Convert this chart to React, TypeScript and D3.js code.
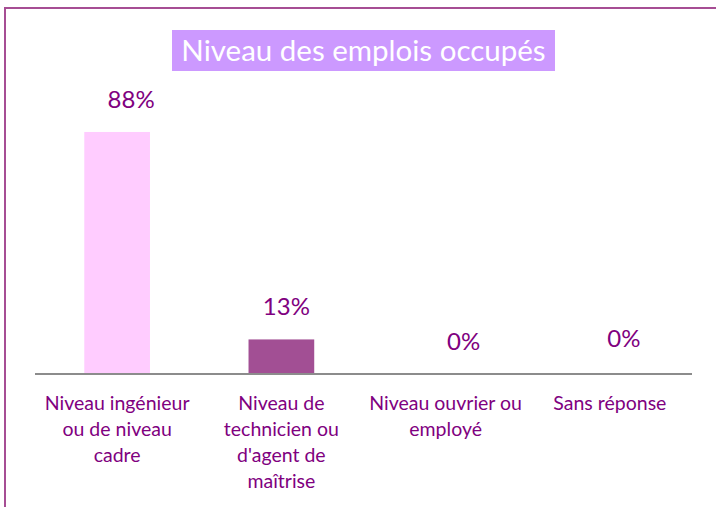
import React from "react";
import * as d3 from "d3";

const categories: string[][] = [
  ["Niveau ingénieur", "ou de niveau", "cadre"],
  ["Niveau de", "technicien ou", "d'agent de", "maîtrise"],
  ["Niveau ouvrier ou", "employé"],
  ["Sans réponse"],
];
const values: number[] = [87.5, 12.5, 0, 0];
const valueLabels: string[] = ["88%", "13%", "0%", "0%"];
const labelOffsetX: number[] = [14, 5, 18, 14];
const labelOffsetY: number[] = [0, 0, 0, -3];
const barColors: string[] = ["#FFCCFF", "#A24F94", "#A24F94", "#A24F94"];

const W = 716;
const H = 507;
const FONT = "Lato, 'Open Sans', sans-serif";
const TEXT = "#800080";

export default function App() {
  const x = d3
    .scaleBand<number>()
    .domain(d3.range(categories.length))
    .range([35, 692])
    .paddingInner(0.6)
    .paddingOuter(0.3);
  const y = d3.scaleLinear().domain([0, 100]).range([374, 97.4]);

  return (
    <svg
      width={W}
      height={H}
      style={{ position: "absolute", left: 0, top: 0, fontFamily: FONT }}
    >
      <rect x={0} y={0} width={W} height={H} fill="#fff" />
      <path d={`M5,${H} L5,8 L${W},8`} fill="none" stroke="#A64D94" strokeWidth={2} />
      <rect x={172} y={30} width={383} height={41} fill="#CC99FF" />
      <text x={363.5} y={60.5} textAnchor="middle" fill="#fff" fontSize={29.5} fontFamily={FONT}>
        Niveau des emplois occupés
      </text>
      {values.map((v, i) => (
        <rect
          key={"b" + i}
          x={x(i)!}
          y={y(v)}
          width={x.bandwidth()}
          height={y(0) - y(v)}
          fill={barColors[i]}
        />
      ))}
      <line x1={35} x2={692} y1={y(0)} y2={y(0)} stroke="#8C8C8C" strokeWidth={2} />
      {values.map((v, i) => (
        <text
          key={"v" + i}
          x={x(i)! + x.bandwidth() / 2 + labelOffsetX[i]}
          y={y(v) - 24 + labelOffsetY[i]}
          textAnchor="middle"
          fill={TEXT}
          fontSize={24}
        >
          {valueLabels[i]}
        </text>
      ))}
      {categories.map((lines, i) => (
        <text
          key={"c" + i}
          x={x(i)! + x.bandwidth() / 2}
          y={410}
          textAnchor="middle"
          fill={TEXT}
          fontSize={19.5}
        >
          {lines.map((l, j) => (
            <tspan key={j} x={x(i)! + x.bandwidth() / 2} dy={j === 0 ? 0 : 26}>
              {l}
            </tspan>
          ))}
        </text>
      ))}
    </svg>
  );
}
